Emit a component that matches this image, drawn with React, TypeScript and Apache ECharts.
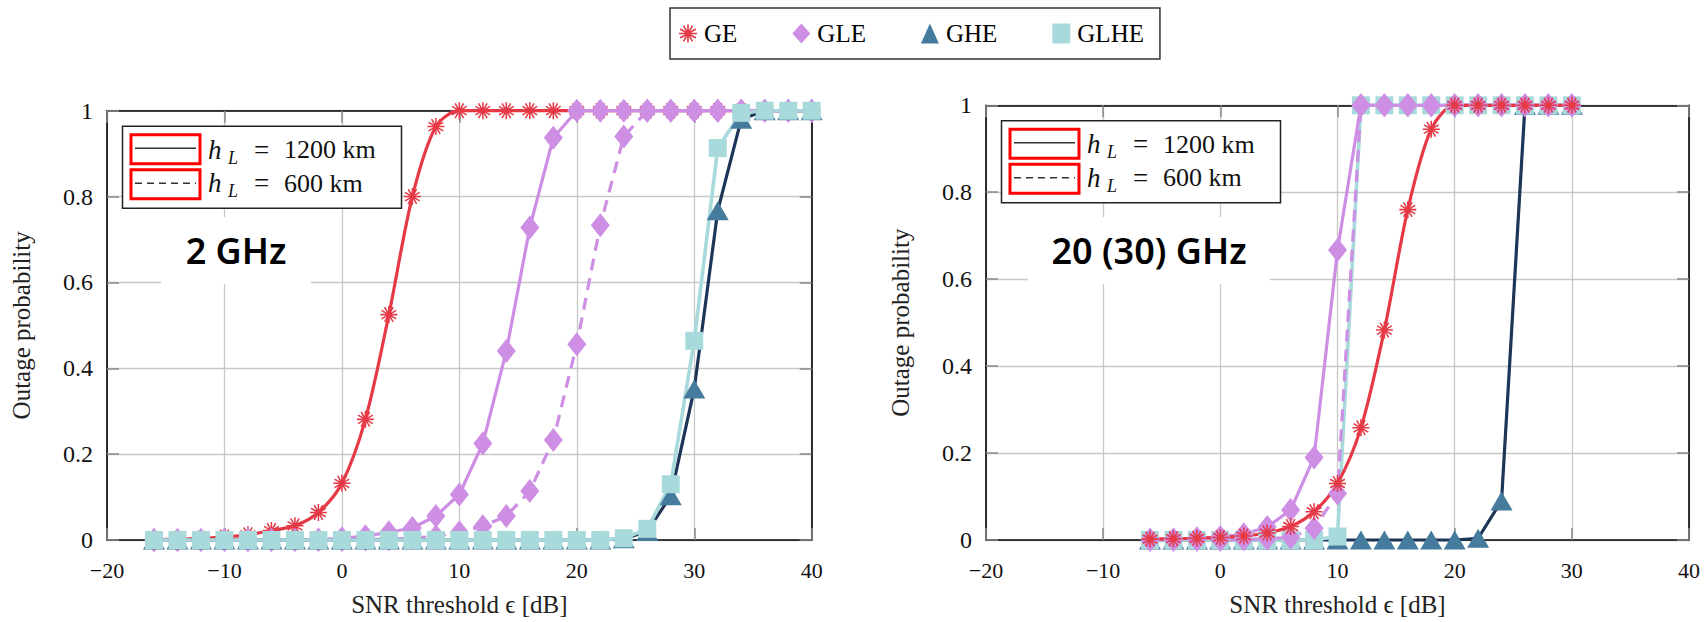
import React, { useEffect, useRef } from 'react';
import * as echarts from 'echarts';

// ---------- data ----------
const xLeft = [-16, -14, -12, -10, -8, -6, -4, -2, 0, 2, 4, 6, 8, 10, 12, 14, 16, 18, 20, 22, 24, 26, 28, 30, 32, 34, 36, 38, 40];
const geLeft = [0.001, 0.002, 0.004, 0.007, 0.012, 0.022, 0.033, 0.064, 0.132, 0.281, 0.525, 0.8, 0.963, 1, 1, 1, 1, 1, 1, 1, 1, 1, 1, 1, 1, 1, 1, 1, 1];
const gleLeft = [0, 0, 0, 0, 0, 0, 0, 0.001, 0.004, 0.009, 0.018, 0.028, 0.056, 0.106, 0.225, 0.44, 0.728, 0.937, 1, 1, 1, 1, 1, 1, 1, 1, 1, 1, 1];
const gleLeft600 = [0, 0, 0, 0, 0, 0, 0, 0, 0, 0.001, 0.002, 0.004, 0.009, 0.018, 0.032, 0.056, 0.114, 0.233, 0.456, 0.733, 0.94, 1, 1, 1, 1, 1, 1, 1, 1];
const gheLeft = [0, 0, 0, 0, 0, 0, 0, 0, 0, 0, 0, 0, 0, 0, 0, 0, 0, 0, 0, 0, 0.003, 0.02, 0.103, 0.352, 0.767, 0.98, 1, 1, 1];
const glheLeft = [0, 0, 0, 0, 0, 0, 0, 0, 0, 0, 0, 0, 0, 0, 0, 0, 0, 0, 0, 0, 0.004, 0.026, 0.13, 0.464, 0.913, 0.995, 1, 1, 1];

const xRight = [-6, -4, -2, 0, 2, 4, 6, 8, 10, 12, 14, 16, 18, 20, 22, 24, 26, 28, 30];
const geRight = [0.002, 0.003, 0.004, 0.006, 0.009, 0.016, 0.031, 0.065, 0.13, 0.258, 0.483, 0.76, 0.945, 1, 1, 1, 1, 1, 1];
const gleRight = [0.001, 0.002, 0.004, 0.007, 0.013, 0.03, 0.069, 0.19, 0.667, 1, 1, 1, 1, 1, 1, 1, 1, 1, 1];
const gleRight600 = [0, 0, 0, 0, 0.001, 0.003, 0.006, 0.027, 0.107, 1, 1, 1, 1, 1, 1, 1, 1, 1, 1];
const gheRight = [0, 0, 0, 0, 0, 0, 0, 0, 0, 0, 0, 0, 0, 0, 0.004, 0.09, 1, 1, 1];
const glheRight = [0, 0, 0, 0, 0, 0, 0, 0, 0.008, 1, 1, 1, 1, 1, 1, 1, 1, 1, 1];

const seriesNames = ['GE', 'GLE', 'GHE', 'GLHE'];
const panelTitles = ['2 GHz', '20 (30) GHz'];
const legendRows = ['1200', '600'];
const xAxisTitle = 'SNR threshold \u03f5 [dB]';
const yAxisTitle = 'Outage probability';

// ---------- styles ----------
const RED = '#e63946';
const PURPLE = '#cd8ee4';
const STEEL = '#457b9d';
const NAVY = '#1d3557';
const CYAN = '#a8dadc';
const SERIF = '"Liberation Serif"';

function asteriskPath(n: number, t: number): string {
  let d = 'path://';
  for (let k = 0; k < n; k++) {
    const a = (k * Math.PI) / n;
    const c = Math.cos(a);
    const s = Math.sin(a);
    const p = [
      [c - s * t, s + c * t],
      [c + s * t, s - c * t],
      [-c + s * t, -s - c * t],
      [-c - s * t, -s + c * t],
    ];
    d += 'M' + p.map((q) => q[0].toFixed(3) + ' ' + q[1].toFixed(3)).join(' L') + ' Z ';
  }
  return d;
}
const ASTERISK = asteriskPath(6, 0.09);

const GRIDS = [
  { left: 107, top: 110.7, width: 704.7, height: 433.8 },
  { left: 986, top: 105.3, width: 703, height: 440 },
];

const minusFmt = (v: number) => (v < 0 ? '\u2212' + Math.abs(v) : String(v));
const yFmt = (v: number) => {
  const r = Math.round(v * 10) / 10;
  return r === 0 ? '0' : r === 1 ? '1' : String(r);
};

function makeAxes(gi: number) {
  const tick = { show: true, inside: true, length: 12, lineStyle: { color: '#8a8a8a', width: 1.5 } };
  const line = { show: true, onZero: false, lineStyle: { color: '#000', width: 1.6 } };
  const xs = [
    {
      gridIndex: gi, type: 'value', position: 'bottom', min: -20, max: 40, interval: 10,
      axisLine: line, axisTick: tick,
      axisLabel: { fontFamily: 'Liberation Serif', fontSize: 22, color: '#111', margin: 19, formatter: minusFmt },
      splitLine: { show: true, lineStyle: { color: '#c8c8c8', width: 1.3 } },
      name: xAxisTitle, nameLocation: 'middle', nameGap: 52,
      nameTextStyle: { fontFamily: 'Liberation Serif', fontSize: 25, color: '#222' },
    },
    {
      gridIndex: gi, type: 'value', position: 'top', min: -20, max: 40, interval: 10,
      axisLine: line, axisTick: tick, axisLabel: { show: false }, splitLine: { show: false },
    },
  ];
  const ys = [
    {
      gridIndex: gi, type: 'value', position: 'left', min: 0, max: 1, interval: 0.2,
      axisLine: line, axisTick: tick,
      axisLabel: { fontFamily: 'Liberation Serif', fontSize: 24, color: '#111', margin: 14, formatter: yFmt },
      splitLine: { show: true, lineStyle: { color: '#c8c8c8', width: 1.3 } },
      name: yAxisTitle, nameLocation: 'middle', nameGap: 73, nameRotate: 90,
      nameTextStyle: { fontFamily: 'Liberation Serif', fontSize: 25, color: '#222' },
    },
    {
      gridIndex: gi, type: 'value', position: 'right', min: 0, max: 1, interval: 0.2,
      axisLine: line, axisTick: tick, axisLabel: { show: false }, splitLine: { show: false },
    },
  ];
  return { xs, ys };
}

type Mark = { symbol: string; size: number | number[]; color: string; line: string; width: number; smooth?: number };
const MARKS: Record<string, Mark> = {
  GE: { symbol: ASTERISK, size: 17, color: RED, line: RED, width: 3.2, smooth: 0.3 },
  GLE: { symbol: 'diamond', size: [19, 24], color: PURPLE, line: PURPLE, width: 3.2 },
  GHE: { symbol: 'triangle', size: [22, 19], color: STEEL, line: NAVY, width: 3.2 },
  GLHE: { symbol: 'rect', size: [18, 18], color: CYAN, line: CYAN, width: 3.6 },
};

function mk(key: string, name: string, xs: number[], ys: number[], gi: number, dashed = false) {
  const m = MARKS[key];
  return {
    type: 'line',
    name,
    xAxisIndex: gi * 2,
    yAxisIndex: gi * 2,
    data: xs.map((x, i) => [x, ys[i]]),
    symbol: m.symbol,
    symbolSize: m.size,
    showAllSymbol: true,
    smooth: m.smooth || false,
    clip: false,
    silent: true,
    itemStyle: { color: m.color, opacity: 1 },
    lineStyle: { color: m.line, width: m.width, type: dashed ? [12, 8] : 'solid' },
    emphasis: { disabled: true },
  };
}

function panelGraphics(gi: number) {
  const g = GRIDS[gi];
  const ox = g.left;
  const oy = g.top;
  const els: any[] = [];
  // inner legend
  els.push({ type: 'rect', z: 100, shape: { x: ox + 15.5, y: oy + 15.5, width: 279, height: 82 }, style: { fill: '#fff', stroke: '#222', lineWidth: 1.5 } });
  const rowY = [38.8, 72.3];
  const rectY = [24, 59];
  legendRows.forEach((val, r) => {
    els.push({ type: 'rect', z: 101, shape: { x: ox + 24, y: oy + rectY[r], width: 69, height: 29 }, style: { fill: 'none', stroke: '#ff0000', lineWidth: 3 } });
    els.push({ type: 'line', z: 102, shape: { x1: ox + 28, y1: oy + rectY[r] + 13.5, x2: ox + 89, y2: oy + rectY[r] + 13.5 }, style: { stroke: '#333', lineWidth: 1.4, lineDash: r === 1 ? [7, 5] : null } });
    els.push({ type: 'text', z: 102, x: ox + 101, y: oy + rowY[r], style: { text: 'h', font: 'italic 27px ' + SERIF, fill: '#111', textAlign: 'left', textVerticalAlign: 'middle' } });
    els.push({ type: 'text', z: 102, x: ox + 121, y: oy + rowY[r] + 8, style: { text: 'L', font: 'italic 18px ' + SERIF, fill: '#111', textAlign: 'left', textVerticalAlign: 'middle' } });
    els.push({ type: 'text', z: 102, x: ox + 147, y: oy + rowY[r], style: { text: '=', font: '27px ' + SERIF, fill: '#111', textAlign: 'left', textVerticalAlign: 'middle' } });
    els.push({ type: 'text', z: 102, x: ox + 177, y: oy + rowY[r], style: { text: val + ' km', font: '26px ' + SERIF, fill: '#111', textAlign: 'left', textVerticalAlign: 'middle' } });
  });
  // panel title
  const cx = gi === 0 ? 236 : 1149;
  const bw = gi === 0 ? 150 : 242;
  els.push({ type: 'rect', z: 100, shape: { x: cx - bw / 2, y: 217, width: bw, height: 67 }, style: { fill: '#fff' } });
  els.push({ type: 'text', z: 101, x: cx, y: 250.5, style: { text: panelTitles[gi], font: '600 36px "Noto Sans"', fill: '#000', textAlign: 'center', textVerticalAlign: 'middle' } });
  return els;
}

export default function App() {
  const ref = useRef<HTMLDivElement>(null);
  useEffect(() => {
    const chart = echarts.init(ref.current as HTMLDivElement, null, { renderer: 'svg' });
    const a0 = makeAxes(0);
    const a1 = makeAxes(1);
    const option: any = {
      animation: false,
      backgroundColor: '#fff',
      grid: GRIDS.map((g) => ({ ...g, containLabel: false })),
      xAxis: [...a0.xs, ...a1.xs],
      yAxis: [...a0.ys, ...a1.ys],
      legend: {
        data: [
          { name: seriesNames[0], icon: ASTERISK },
          { name: seriesNames[1], icon: 'diamond' },
          { name: seriesNames[2], icon: 'triangle' },
          { name: seriesNames[3], icon: 'rect' },
        ],
        left: 670,
        top: 8,
        itemWidth: 18,
        itemHeight: 20,
        itemGap: 55,
        padding: [13, 16, 13, 9],
        borderColor: '#333',
        borderWidth: 1.5,
        backgroundColor: '#fff',
        selectedMode: false,
        textStyle: { fontFamily: 'Liberation Serif', fontSize: 25, color: '#000', padding: [0, 0, 0, 2] },
      },
      series: [
        mk('GE', 'GE', xLeft, geLeft, 0),
        mk('GLE', 'GLE', xLeft, gleLeft, 0),
        mk('GLE', 'GLE 600 km', xLeft, gleLeft600, 0, true),
        mk('GHE', 'GHE', xLeft, gheLeft, 0),
        mk('GLHE', 'GLHE', xLeft, glheLeft, 0),
        mk('GHE', 'GHE', xRight, gheRight, 1),
        mk('GLHE', 'GLHE', xRight, glheRight, 1),
        mk('GLE', 'GLE 600 km', xRight, gleRight600, 1, true),
        mk('GLE', 'GLE', xRight, gleRight, 1),
        mk('GE', 'GE', xRight, geRight, 1),
      ],
      graphic: { elements: [...panelGraphics(0), ...panelGraphics(1)] },
    };
    chart.setOption(option);
    return () => chart.dispose();
  }, []);
  return (
    <div
      ref={ref}
      style={{ position: 'absolute', left: 0, top: 0, width: 1704, height: 622, background: '#fff' }}
    />
  );
}
